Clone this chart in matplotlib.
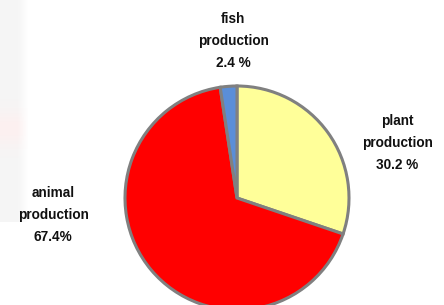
import matplotlib
matplotlib.use("Agg")
import matplotlib.pyplot as plt
import numpy as np

categories = ["plant\nproduction", "animal\nproduction", "fish\nproduction"]
values = [30.2, 67.4, 2.4]
pct_labels = ["30.2 %", "67.4%", "2.4 %"]
colors = ["#FFFF99", "#FF0000", "#5A8ED8"]

W, H = 444, 305
fig = plt.figure(figsize=(W / 100, H / 100), dpi=100)
ax = fig.add_axes([0, 0, 1, 1])

# faint background watermark on the left edge (vertical band, fades out)
ys = np.linspace(0, 1, 120)[:, None]
xs = np.linspace(0, 1, 30)[None, :]
base = 0.962 + 0.0 * ys
pink = np.exp(-((ys - 0.58) / 0.08) ** 2)
rch = np.clip(base + 0.03 * pink, 0, 1) * np.ones_like(xs)
gch = np.clip(base - 0.02 * pink, 0, 1) * np.ones_like(xs)
bch = np.clip(base - 0.02 * pink, 0, 1) * np.ones_like(xs)
fade = np.clip((xs - 0.6) / 0.4, 0, 1)
alpha = (1 - fade) * np.ones_like(ys)
img = np.dstack([rch, gch, bch, alpha])
ax.imshow(img, extent=(0, 28, H - 222, H), aspect="auto", zorder=0, interpolation="bilinear")

cx, cy, r = 237, H - 198, 112
ax.pie(values, colors=colors, startangle=90, counterclock=False,
       center=(cx, cy), radius=r, frame=True,
       wedgeprops=dict(edgecolor="#808080", linewidth=2.2))
ax.set_xlim(0, W)
ax.set_ylim(0, H)
ax.set_aspect("equal")
ax.axis("off")

label_pos = [(397, 121), (53, 193), (233, 19)]
for cat, pct, (x, y) in zip(categories, pct_labels, label_pos):
    lines = cat.split("\n") + [pct]
    for i, line in enumerate(lines):
        ax.text(x, H - (y + 22 * i), line, ha="center", va="center",
                fontsize=9.8, fontweight="bold", family="Liberation Sans",
                color="#111111")

fig.savefig("out.png", dpi=100)
